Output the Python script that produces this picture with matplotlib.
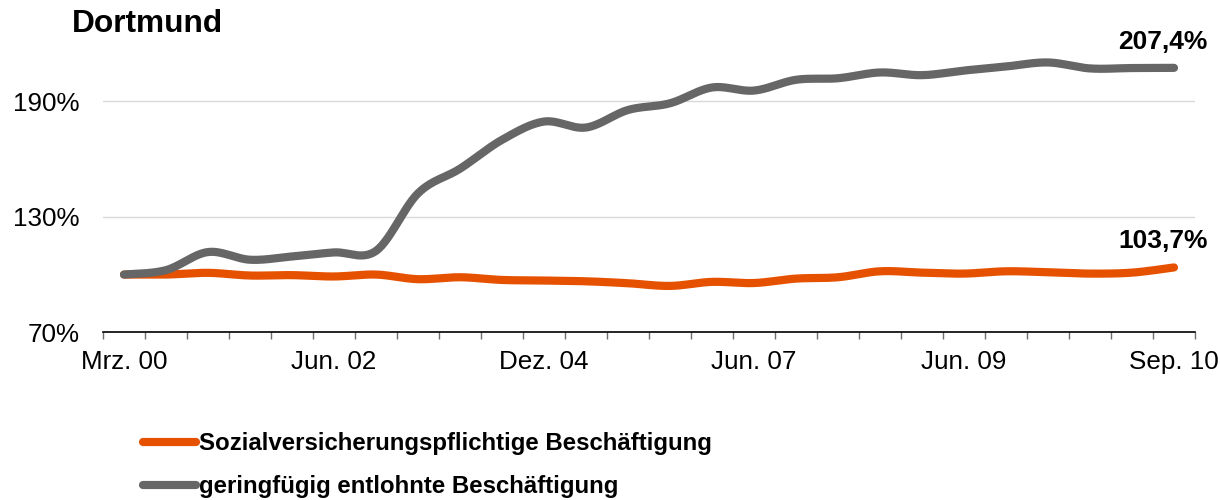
import numpy as np
import matplotlib
matplotlib.use("Agg")
import matplotlib.pyplot as plt

plt.rcParams['font.family'] = ['Liberation Sans', 'DejaVu Sans']

# ---- data ----
title = "Dortmund"
series_names = ["Sozialversicherungspflichtige Beschäftigung",
                "geringfügig entlohnte Beschäftigung"]
tick_labels = ["Mrz. 00", "Jun. 02", "Dez. 04", "Jun. 07", "Jun. 09", "Sep. 10"]
tick_index = [0, 5, 10, 15, 20, 25]
n_categories = 26
svb = [100, 100, 100.9, 99.5, 99.7, 99.0, 100, 97.6, 98.6, 97.2, 96.9, 96.5, 95.5,
       94.1, 96.2, 95.6, 97.9, 98.6, 101.7, 101.0, 100.5, 101.7, 101.2, 100.5, 101.0, 103.7]
gering = [100, 102.3, 111.7, 107.7, 109.4, 111.5, 112.3, 142.2, 155.0, 170.0, 179.5,
          176.4, 185.5, 189.0, 197.2, 195.6, 201.2, 202.0, 205.0, 203.6, 206.0, 208.1,
          210.2, 207.1, 207.3, 207.4]
end_labels = ["103,7%", "207,4%"]
yticks = [70, 130, 190]
ytick_labels = ["70%", "130%", "190%"]

colors = ["#E65100", "#666666"]


def smooth(y, steps=30):
    """Excel-style smoothed line: cubic Bezier through the points."""
    y = np.asarray(y, float)
    x = np.arange(len(y), dtype=float)
    P = np.column_stack([x, y])
    Pm = np.vstack([P[0], P, P[-1]])
    out = []
    t = np.linspace(0, 1, steps)[:, None]
    for i in range(len(P) - 1):
        p0 = P[i]
        p3 = P[i + 1]
        c1 = p0 + (Pm[i + 2] - Pm[i]) / 6.0
        c2 = p3 - (Pm[i + 3] - Pm[i + 1]) / 6.0
        seg = ((1 - t) ** 3) * p0 + 3 * ((1 - t) ** 2) * t * c1 + 3 * (1 - t) * t ** 2 * c2 + t ** 3 * p3
        out.append(seg if i == 0 else seg[1:])
    out = np.vstack(out)
    return out[:, 0], out[:, 1]


fig = plt.figure(figsize=(12.2, 5.0), dpi=100)
W, H = 1220, 500
left, right = 103 / W, 1195 / W
bottom = 1 - 332.3 / H
top = 1 - 43.6 / H
ax = fig.add_axes([left, bottom, right - left, top - bottom])

for data, col, name in zip([svb, gering], colors, series_names):
    xs, ys = smooth(data)
    ax.plot(xs, ys, color=col, lw=5.9, solid_capstyle='round',
            solid_joinstyle='round', label=name)

ax.set_xlim(-0.5, n_categories - 0.5)
ax.set_ylim(70, 220)

# y axis
ax.set_yticks(yticks)
ax.set_yticklabels(ytick_labels)
ax.tick_params(axis='y', length=0, pad=17, labelsize=18.7, labelcolor='#000000')
ax.grid(axis='y', color='#d9d9d9', lw=1.0)
ax.set_axisbelow(True)

# x axis: boundary ticks + labels at category centres
ax.set_xticks(np.arange(n_categories + 1) - 0.5)
ax.set_xticklabels([])
ax.tick_params(axis='x', which='major', length=5, width=1.0, color='#6e6e6e', direction='out')
ax.set_xticks(tick_index, minor=True)
ax.set_xticklabels(tick_labels, minor=True)
ax.tick_params(axis='x', which='minor', length=0, pad=13, labelsize=18.7)

for s in ['left', 'right', 'top']:
    ax.spines[s].set_visible(False)
ax.spines['bottom'].set_color('#000000')
ax.spines['bottom'].set_linewidth(1.2)

# end labels
for data, lab in zip([svb, gering], end_labels):
    ax.annotate(lab, xy=(n_categories - 1, data[-1]), xytext=(-56, 19),
                textcoords='offset pixels', ha='left', va='baseline',
                fontsize=19, fontweight='bold', color='#000000')

fig.text(72 / W, 1 - 32 / H, title, fontsize=22.8, fontweight='bold',
         ha='left', va='baseline', color='#000000')

leg = fig.legend(loc='upper left', bbox_to_anchor=(143 / W, 1 - 432 / H),
                 frameon=False, prop={'weight': 'bold', 'size': 17.3},
                 handlelength=2.2, handletextpad=0.15, labelspacing=0.84,
                 borderpad=0, borderaxespad=0)

fig.savefig("out.png", dpi=100)
